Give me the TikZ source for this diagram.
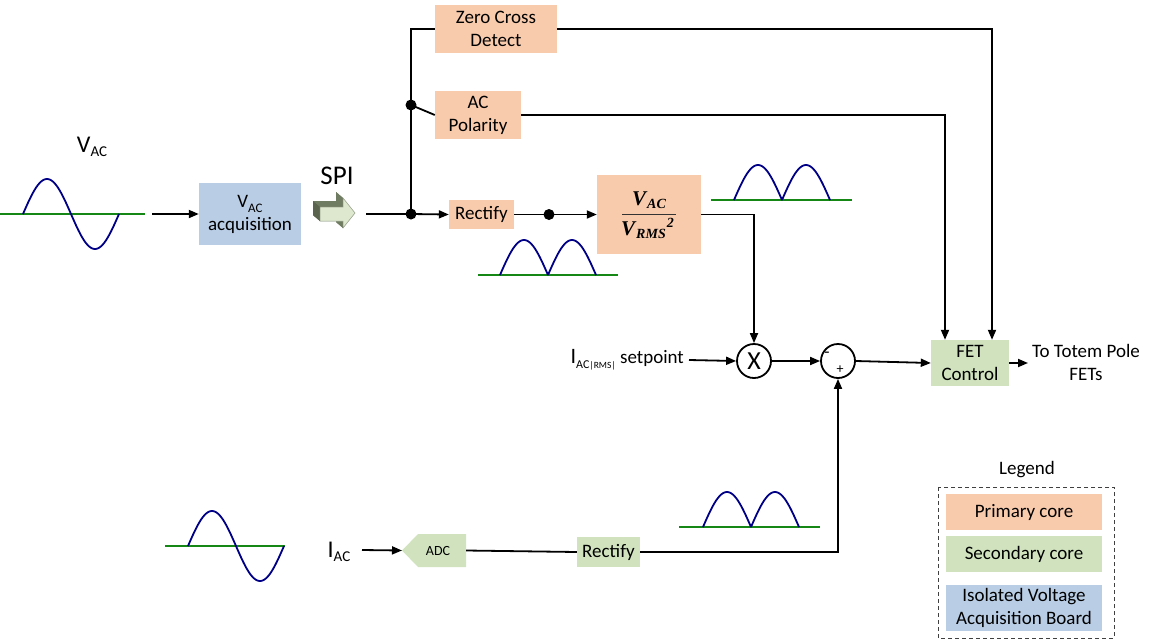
\documentclass[tikz,border=0pt]{standalone}
\usepackage{fontspec}
\setmainfont{Carlito}
\newfontfamily\cambfont{Liberation Serif}
\usetikzlibrary{arrows.meta,calc}
\definecolor{prim}{RGB}{248,203,173}
\definecolor{sec}{RGB}{208,227,190}
\definecolor{iso}{RGB}{185,205,229}
\definecolor{wave}{RGB}{0,0,135}
\definecolor{axis}{RGB}{20,135,20}
\definecolor{spidark}{RGB}{112,124,98}
\definecolor{spilight}{RGB}{222,232,206}
\newcommand{\mysub}[1]{\raisebox{-0.28em}{\fontsize{13}{13}\selectfont #1}}
\newcommand{\bigsub}[1]{\raisebox{-4pt}{\fontsize{15}{15}\selectfont #1}}
\newcommand{\mysubs}[1]{{\fontsize{9.5}{10}\selectfont #1}}
\newcommand{\fsub}[1]{\raisebox{-3pt}{\fontsize{14}{14}\selectfont\hspace{1pt}#1}}
\newcommand{\fsup}[1]{\raisebox{8pt}{\fontsize{14}{14}\selectfont\hspace{1pt}#1}}
\tikzset{
  blk/.style={inner sep=0pt, align=center, font=\fontsize{19}{23}\selectfont},
  pbox/.style={blk, fill=prim},
  sbox/.style={blk, fill=sec},
  ibox/.style={blk, fill=iso},
  txt/.style={inner sep=2pt, align=center, font=\fontsize{19}{23}\selectfont},
  conn/.style={line width=1.8pt, black},
  arr/.style={conn, -{Triangle[length=10pt,width=8pt]}},
  jdot/.style={circle, fill=black, inner sep=0pt, minimum size=11pt},
  opc/.style={circle, draw=black, line width=1.8pt, minimum size=34pt, inner sep=0pt},
  wv/.style={wave, line width=1.8pt},
  ax/.style={axis, line width=1.8pt},
  frm/.style={inner sep=0pt, font=\cambfont\bfseries\itshape\fontsize{21}{24}\selectfont},
}
\begin{document}
\begin{tikzpicture}[x=1pt,y=-1pt]
\useasboundingbox (0,0) rectangle (1154,643);

% ---- waveforms ----
\draw[ax] (0,214) -- (145,214);
\draw[wv] plot[domain=0:360,samples=72,smooth] ({23+\x/360*96},{214-35*sin(\x)});
\draw[ax] (165,546) -- (285,546);
\draw[wv] plot[domain=0:360,samples=72,smooth] ({188+\x/360*96},{546-35*sin(\x)});
\draw[ax] (478,275) -- (618,275);
\draw[wv] plot[domain=0:180,samples=36,smooth] ({500+\x/180*48},{275-35*sin(\x)});
\draw[wv] plot[domain=0:180,samples=36,smooth] ({548+\x/180*48},{275-35*sin(\x)});
\draw[ax] (711,200) -- (852,200);
\draw[wv] plot[domain=0:180,samples=36,smooth] ({734+\x/180*48},{200-35*sin(\x)});
\draw[wv] plot[domain=0:180,samples=36,smooth] ({782+\x/180*48},{200-35*sin(\x)});
\draw[ax] (679,527) -- (820,527);
\draw[wv] plot[domain=0:180,samples=36,smooth] ({703+\x/180*48},{527-35*sin(\x)});
\draw[wv] plot[domain=0:180,samples=36,smooth] ({751+\x/180*48},{527-35*sin(\x)});

% ---- labels ----
\node[inner sep=0pt, anchor=base, font=\fontsize{24}{26}\selectfont] (vaclbl) at (92,152) {V\bigsub{AC}};
\node[inner sep=0pt, anchor=base, font=\fontsize{24}{26}\selectfont] (iaclbl) at (339,557) {I\bigsub{AC}};
\node[txt, font=\fontsize{27}{30}\selectfont] (spilbl) at (337,176) {SPI};

% ---- blocks ----
\node[ibox, minimum width=102pt, minimum height=62pt] (acq) at (250,214) {V\mysub{AC}\\acquisition};
\node[pbox, minimum width=122pt, minimum height=48pt] (zcd) at (496,29) {Zero Cross\\Detect};
\node[pbox, minimum width=86pt, minimum height=48pt] (acp) at (478,115) {AC\\Polarity};
\node[pbox, minimum width=65pt, minimum height=29pt] (rect1) at (481.5,214.5) {Rectify};
\node[pbox, minimum width=104pt, minimum height=79pt] (vrms) at (649,214.5) {};
\node[frm, anchor=base] (num) at (649,205) {V\fsub{AC}};
\node[frm, anchor=base] (den) at (647.5,235) {V\fsub{RMS}\fsup{2}};
\draw[line width=1pt, black!80] (622,214) -- (676,214);
\node[opc, font=\fontsize{26}{26}\selectfont] (mult) at (754,361) {X};
\node[opc] (sum) at (838,361) {};
\node[font=\fontsize{17}{17}\selectfont, inner sep=0pt] (minus) at (827,355) {-};
\node[font=\fontsize{14}{14}\selectfont, inner sep=0pt] (plus) at (840,370) {+};
\node[sbox, minimum width=78pt, minimum height=46pt] (fet) at (970,363) {FET\\Control};
\node[txt] (totem) at (1086,362) {To Totem Pole\\FETs};
\node[txt, anchor=east, inner sep=5pt] (setp) at (689,360) {{\fontsize{22}{22}\selectfont I}\raisebox{-0.28em}{\fontsize{12}{12}\selectfont AC\mysubs{|RMS|}} setpoint};

% ADC pentagon
\fill[sec] (418,534) -- (466,534) -- (466,567) -- (418,567) -- (402,550.5) -- cycle;
\node[blk, font=\fontsize{14}{14}\selectfont, minimum width=64pt, minimum height=33pt] (adc) at (434,550.5) {\hspace*{8pt}ADC};
\coordinate (adctip) at (402,550.5);
\node[sbox, minimum width=63pt, minimum height=30pt] (rect2) at (608.5,552) {Rectify};

% SPI block arrow
\coordinate (f1) at (320,207);
\coordinate (f2) at (343,207);
\coordinate (f3) at (343,198);
\coordinate (f4) at (355,213);
\coordinate (f5) at (343,228);
\coordinate (f6) at (343,221);
\coordinate (f7) at (320,221);
\foreach \i in {1,...,7}{\coordinate (b\i) at ($(f\i)+(-7,-6)$);}
\fill[spidark] (b1)--(b2)--(b3)--(b4)--(b5)--(b6)--(b7)--cycle;
\foreach \i/\j in {1/2,2/3,3/4,4/5,5/6,6/7,7/1}{\fill[spidark] (f\i)--(f\j)--(b\j)--(b\i)--cycle;}
\fill[spidark!80!black] (f7)--(f1)--(b1)--(b7)--cycle;
\filldraw[fill=spilight, draw=spidark!70, line width=0.5pt] (f1)--(f2)--(f3)--(f4)--(f5)--(f6)--(f7)--cycle;

% ---- connectors ----
\coordinate (vin) at (152,214);
\coordinate (spiout) at (366,214);
\node[jdot] (j1) at (411,214) {};
\node[jdot] (j2) at (411,105) {};
\node[jdot] (j3) at (549,214.5) {};
\coordinate (ztop) at (411,29);
\coordinate (iacout) at (362,550);
\coordinate (fout) at (1028,363);

\draw[arr] (vin) -- (acq.west);
\draw[conn] (spiout) -- (j1.center);
\draw[arr] (j1.center) -- (rect1.west);
\draw[conn] (j1.center) -- (ztop) -- (zcd.west);
\draw[conn] (j2.center) -- (acp.west);
\draw[conn] (rect1.east) -- (j3.center);
\draw[arr] (j3.center) -- (vrms.west);
\draw[arr] (vrms.east) -| (mult.north);
\draw[arr] (setp.east) -- (mult.west);
\draw[arr] (mult.east) -- (sum.west);
\draw[arr] (sum.east) -- (fet.west);
\draw[arr] (zcd.east) -| ([xshift=22pt]fet.north);
\draw[arr] (acp.east) -| ([xshift=-25pt]fet.north);
\draw[arr] (fet.east) -- (fout);
\draw[arr] (iacout) -- (adctip);
\draw[conn] (adc.east) -- (rect2.west);
\draw[arr] (rect2.east) -| (sum.south);

% ---- legend ----
\node[txt] (legt) at (1027,470) {Legend};
\draw[black!75, line width=1pt, dash pattern=on 4pt off 3pt] (938,487) rectangle (1114,638);
\node[pbox, minimum width=156pt, minimum height=36pt] (lp) at (1024,512) {Primary core};
\node[sbox, minimum width=156pt, minimum height=36pt] (ls) at (1024,554) {Secondary core};
\node[ibox, minimum width=156pt, minimum height=46pt] (li) at (1024,607.5) {Isolated Voltage\\Acquisition Board};
\end{tikzpicture}
\end{document}
